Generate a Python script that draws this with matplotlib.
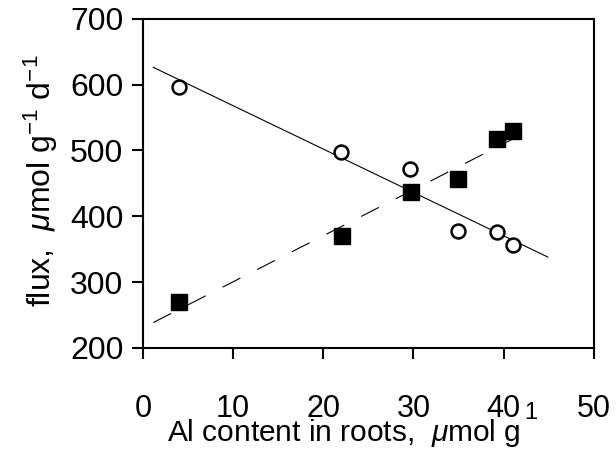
import numpy as np
import matplotlib
matplotlib.use("Agg")
import matplotlib.pyplot as plt

plt.rcParams['font.family'] = ['Liberation Sans', 'DejaVu Sans']
plt.rcParams['mathtext.fontset'] = 'custom'
plt.rcParams['mathtext.rm'] = 'Liberation Sans'
plt.rcParams['mathtext.it'] = 'Liberation Sans:italic'

# Al content in roots (umol/g) and measured fluxes
al_open = [4.0, 22.0, 29.6, 34.9, 39.3, 41.0]
flux_open = [597, 498, 472, 378, 376, 357]
al_filled = [4.0, 22.1, 29.7, 34.9, 39.3, 41.0]
flux_filled = [269, 370, 437, 456, 517, 530]

# x extent of each fitted line
fit_range_open = [1.15, 44.9]
fit_range_filled = [1.15, 43.4]

xticks = [0, 10, 20, 30, 40, 50]
yticks = [200, 300, 400, 500, 600, 700]

fig = plt.figure(figsize=(6.16, 4.5), dpi=100)
ax = fig.add_axes([0.232, 0.227, 0.732, 0.731])

# least-squares lines through each series
p_open = np.polyfit(al_open, flux_open, 1)
p_filled = np.polyfit(al_filled, flux_filled, 1)
xo = np.array(fit_range_open)
xf = np.array(fit_range_filled)
ax.plot(xo, np.polyval(p_open, xo), color='black', lw=0.8, zorder=2)
ax.plot(xf, np.polyval(p_filled, xf), color='black', lw=0.8,
        ls=(0, (18, 17)), zorder=2)

ax.plot(al_open, flux_open, ls='none', marker='o', ms=10, mfc='white',
        mec='black', mew=1.8, zorder=3)
ax.plot(al_filled, flux_filled, ls='none', marker='s', ms=12, mfc='black',
        mec='black', zorder=4)

ax.set_xlim(0, 50)
ax.set_ylim(200, 700)
ax.set_xticks(xticks)
ax.set_yticks(yticks)
ax.tick_params(axis='y', direction='out', length=8, width=1.5, pad=6,
               labelsize=23)
ax.tick_params(axis='x', direction='out', length=8, width=1.5, pad=25,
               labelsize=22)
for s in ax.spines.values():
    s.set_linewidth(1.5)

ax.set_ylabel(r'flux,  $\mathit{\mu}$mol g$^{-1}$ d$^{-1}$', fontsize=23)
ax.yaxis.label.set_va('baseline')
ax.yaxis.set_label_coords(-0.204, 0.509)

ax.set_xlabel(r'Al content in roots,  $\mathit{\mu}$mol g', fontsize=21.5)
ax.xaxis.label.set_va('baseline')
ax.xaxis.set_label_coords(0.4446, -0.282)

# superscript of the x-axis unit
ax.text(43.0, -0.215, '1', transform=ax.get_xaxis_transform(),
        fontsize=17, ha='center', va='baseline')

fig.savefig('out.png', dpi=100)
